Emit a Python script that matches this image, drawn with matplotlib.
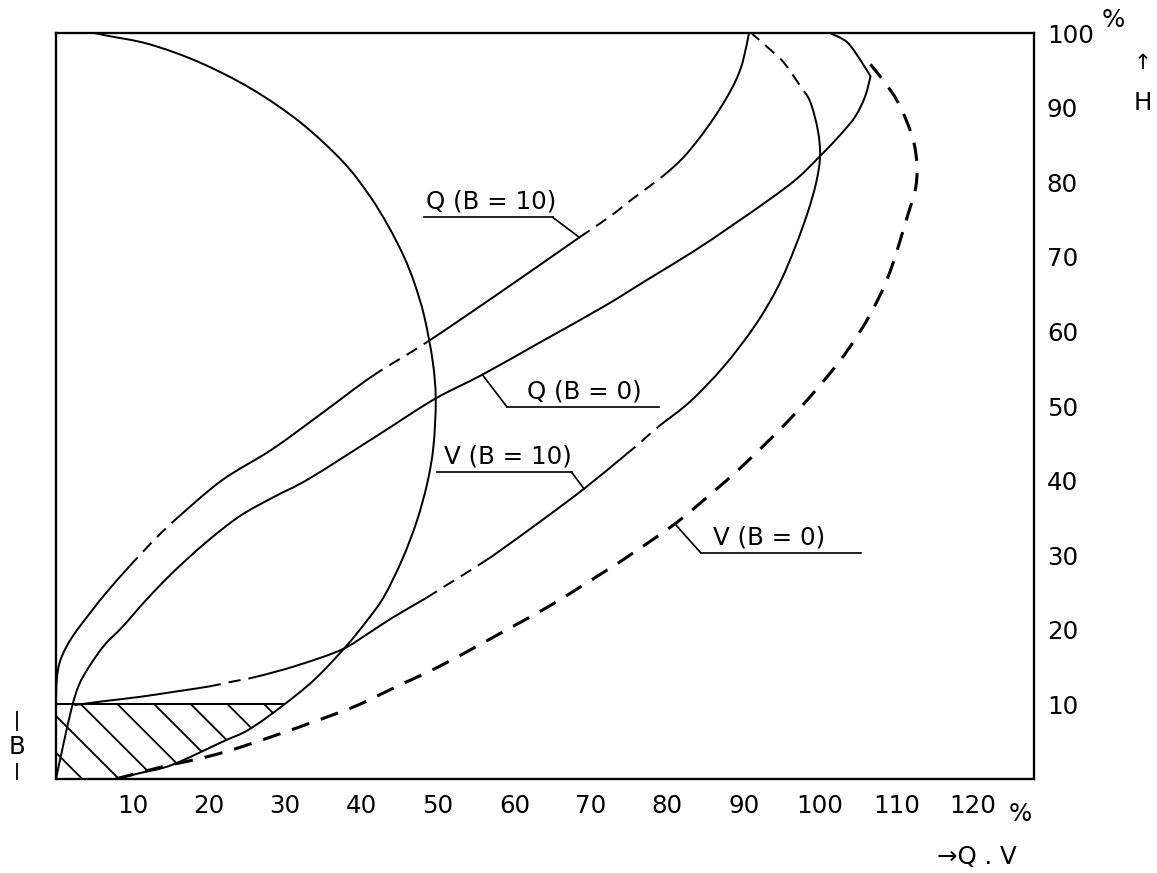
"""
Pump characteristic sketch: Q and V curves against head H, for B = 0 and B = 10.

Curves are read off a scanned drawing and drawn as smooth Bezier paths,
partly solid and partly broken as in the original.
"""

import matplotlib

matplotlib.use("Agg")
import matplotlib.pyplot as plt
from matplotlib.patches import PathPatch
from matplotlib.path import Path
from matplotlib.transforms import blended_transform_factory

DPI = 220
W_PX, H_PX = 1157, 873

plt.rcParams["font.family"] = ["DejaVu Sans", "Noto Sans"]
plt.rcParams["hatch.linewidth"] = 0.6
plt.rcParams["lines.scale_dashes"] = False

# ---- data (x = Q,V in %, y = H in %) ----
X_TICKS = [10, 20, 30, 40, 50, 60, 70, 80, 90, 100, 110, 120]
Y_TICKS = [10, 20, 30, 40, 50, 60, 70, 80, 90, 100]

ARC_X = [5.0, 6.9, 12.2, 18.7, 25.6, 32.0, 37.6, 41.1, 43.5, 45.5, 46.9, 48.2,
         49.3, 49.7, 49.4, 48.6, 47.2, 45.3, 42.9, 40.6, 37.8, 33.8, 29.5,
         25.2, 21.8, 15.2, 11.0, 7.8]
ARC_Y = [100.0, 99.6, 98.5, 96.1, 92.5, 88.0, 82.7, 78.1, 74.1, 70.1, 66.5, 62.0,
         56.0, 50.9, 44.6, 39.7, 34.5, 29.4, 24.4, 21.1, 17.6, 13.3, 9.7,
         6.6, 5.0, 1.9, 0.8, 0.0]

QB10_X = [0.0, 0.1, 0.6, 2.1, 4.8, 6.6, 9.6, 13.1, 16.1, 21.8, 28.3, 34.9,
          41.4, 48.6, 58.1, 68.5, 72.5, 75.5, 79.4, 82.0, 84.2, 86.1, 87.7,
          89.0, 89.9, 90.7]
QB10_Y = [10.0, 13.3, 16.0, 19.0, 22.7, 25.0, 28.5, 32.3, 35.2, 40.1, 44.2, 49.1,
          54.0, 58.6, 65.2, 72.6, 75.4, 77.8, 80.8, 83.2, 85.9, 88.6, 91.2,
          93.7, 96.2, 100.0]
QB10_DASHED = [(6, 8), (12, 13), (15, 18)]

QB0_X = [0.0, 1.0, 2.1, 3.0, 4.3, 6.3, 8.7, 11.8, 15.2, 19.5, 24.0, 28.5, 33.2,
         42.3, 49.5, 55.8, 63.3, 71.8, 77.5, 83.4, 88.2, 93.4, 97.0, 100.0,
         102.6, 104.6, 105.9, 106.6, 105.2, 103.5, 101.3]
QB0_Y = [0.0, 4.8, 9.7, 12.6, 15.0, 17.9, 20.4, 24.0, 27.6, 31.6, 35.2, 37.8, 40.3,
         46.2, 50.9, 54.2, 58.5, 63.4, 67.0, 70.7, 74.0, 77.7, 80.5, 83.5,
         86.3, 88.8, 91.5, 94.2, 96.5, 98.8, 100.0]
QB0_DASHED = []
QB0_CORNERS = [27]

VB10_X = [2.4, 6.0, 10.9, 15.5, 20.0, 22.8, 26.2, 31.5, 37.3, 41.0, 44.0, 48.5,
          50.5, 53.5, 56.4, 58.1, 63.5, 69.1, 74.6, 76.7, 78.8, 83.0, 87.4,
          91.5, 94.5, 96.7, 98.4, 99.5, 100.0, 99.7, 98.7, 97.4, 95.2, 93.0,
          91.1]
VB10_Y = [9.9, 10.4, 11.0, 11.7, 12.4, 13.0, 13.7, 15.2, 17.3, 19.6, 21.6, 24.3,
          25.6, 27.5, 29.4, 30.6, 34.6, 38.9, 43.5, 45.3, 47.2, 50.6, 55.3,
          60.8, 66.0, 71.2, 76.0, 80.0, 83.5, 87.0, 90.8, 92.9, 96.1, 98.2,
          99.9]
VB10_DASHED = [(4, 6), (11, 14), (18, 20), (30, 34)]

VB0_X = [7.8, 11.5, 15.0, 19.1, 23.0, 25.7, 28.3, 34.1, 39.5, 44.6, 50.0, 55.8,
         58.1, 64.6, 71.8, 75.1, 81.0, 85.7, 90.2, 97.1, 103.9, 108.5, 111.6,
         112.5, 112.7, 112.3, 111.4, 110.1, 108.6, 106.6]
VB0_Y = [0.0, 1.0, 1.9, 2.8, 3.9, 4.8, 5.7, 7.8, 9.9, 12.4, 15.0, 18.2,
         19.5, 23.2, 27.8, 30.0, 34.2, 38.2, 42.3, 49.4, 57.9, 66.3, 76.0,
         79.2, 82.1, 85.2, 88.0, 90.9, 93.2, 95.8]
VB0_DASHED = [(0, len(VB0_X) - 1)]

# hatched zone below B: bounded by the axis, the B line and the lower arc
HATCH_X = [0.0, 7.8, 11.0, 15.2, 21.8, 25.2, 29.5, 29.8, 0.0]
HATCH_Y = [0.0, 0.0, 0.8, 1.9, 5.0, 6.6, 9.7, 10.0, 10.0]

LABELS = ["Q (B = 10)", "Q (B = 0)", "V (B = 10)", "V (B = 0)"]


def px(x, y):
    """Figure fraction from picture pixels."""
    return x / W_PX, 1 - y / H_PX


def control_points(xs, ys, corners):
    """Catmull-Rom tangents turned into cubic Bezier control points."""
    n = len(xs)
    ctrl = []
    for i in range(n - 1):
        i0 = max(i - 1, 0)
        i3 = min(i + 2, n - 1)
        k1 = 0.0 if i in corners else 1 / 6
        k2 = 0.0 if i + 1 in corners else 1 / 6
        c1 = (xs[i] + (xs[i + 1] - xs[i0]) * k1, ys[i] + (ys[i + 1] - ys[i0]) * k1)
        c2 = (xs[i + 1] - (xs[i3] - xs[i]) * k2,
              ys[i + 1] - (ys[i3] - ys[i]) * k2)
        ctrl.append((c1, c2))
    return ctrl


def draw_curve(ax, xs, ys, dashed, lw=0.65, dash=(4.0, 2.6), corners=()):
    """Draw a smooth curve with some segment ranges broken."""
    n = len(xs) - 1
    ctrl = control_points(xs, ys, corners)
    flags = [False] * n
    for a, b in dashed:
        for i in range(a, b):
            flags[i] = True
    start = 0
    for i in range(1, n + 1):
        if i == n or flags[i] != flags[start]:
            verts = [(xs[start], ys[start])]
            codes = [Path.MOVETO]
            for j in range(start, i):
                verts += [ctrl[j][0], ctrl[j][1], (xs[j + 1], ys[j + 1])]
                codes += [Path.CURVE4] * 3
            style = (0, dash) if flags[start] else "-"
            ax.add_patch(PathPatch(Path(verts, codes), fill=False,
                                   edgecolor="black", lw=lw, linestyle=style,
                                   joinstyle="round", capstyle="butt"))
            start = i


def label(ax, text, tx, uy, x0, x1, leader_from, target):
    """Underlined label with a short leader to a curve point."""
    ax.text(tx, uy + 0.5, text, ha="center", va="bottom", fontsize=8)
    ax.plot([x0, x1], [uy, uy], color="black", lw=0.55)
    lx = x0 if leader_from == "left" else x1
    ax.plot([lx, target[0]], [uy, target[1]], color="black", lw=0.55)


def main() -> None:
    """Draw the chart."""
    fig = plt.figure(figsize=(W_PX / DPI, H_PX / DPI), dpi=DPI)
    ax = fig.add_axes([56 / W_PX, 1 - 779 / H_PX, 978 / W_PX, 746 / H_PX])
    ax.set_xlim(0, 128)
    ax.set_ylim(0, 100)

    for s in ax.spines.values():
        s.set_linewidth(0.75)

    ax.set_xticks(X_TICKS)
    ax.set_xticklabels([str(v) for v in X_TICKS], fontsize=8)
    ax.yaxis.tick_right()
    ax.set_yticks(Y_TICKS)
    ax.set_yticklabels([str(v) for v in Y_TICKS], fontsize=8)
    ax.tick_params(axis="x", length=0, pad=4.8)
    ax.tick_params(axis="y", length=0, pad=4.2)

    # hatched zone and B line
    ax.fill(HATCH_X, HATCH_Y, facecolor="none", edgecolor="black",
            linewidth=0, hatch="\\\\")
    ax.plot(HATCH_X[-2:], HATCH_Y[-2:], color="black", lw=0.65)

    draw_curve(ax, ARC_X, ARC_Y, [])
    draw_curve(ax, QB10_X, QB10_Y, QB10_DASHED)
    draw_curve(ax, QB0_X, QB0_Y, QB0_DASHED, corners=QB0_CORNERS)
    draw_curve(ax, VB10_X, VB10_Y, VB10_DASHED)
    draw_curve(ax, VB0_X, VB0_Y, VB0_DASHED, lw=1.0, dash=(6.0, 4.0))

    label(ax, LABELS[0], 56.9, 75.3, 48.2, 65.0, "right",
          (QB10_X[15], QB10_Y[15]))
    label(ax, LABELS[1], 69.2, 49.9, 59.0, 78.9, "left",
          (QB0_X[15], QB0_Y[15]))
    label(ax, LABELS[2], 59.1, 41.1, 49.8, 67.5, "right",
          (VB10_X[17], VB10_Y[17]))
    label(ax, LABELS[3], 93.3, 30.3, 84.4, 105.4, "left",
          (VB0_X[16], VB0_Y[16]))

    # B dimension mark at the left
    tr = blended_transform_factory(ax.transAxes, ax.transData)
    ax.text(-0.040, 4.3, "B", transform=tr, ha="center", va="center",
            fontsize=8)
    ax.plot([-0.040, -0.040], [6.6, 9.0], transform=tr, color="black",
            lw=0.6, clip_on=False)
    ax.plot([-0.040, -0.040], [0.0, 2.0], transform=tr, color="black",
            lw=0.6, clip_on=False)

    # axis names
    fig.text(*px(1113, 20), "%", ha="center", va="center", fontsize=8)
    fig.text(*px(1143, 63), "↑", ha="center", va="center", fontsize=7)
    fig.text(*px(1143, 103), "H", ha="center", va="center", fontsize=8)
    fig.text(*px(1020, 814), "%", ha="center", va="center", fontsize=8)
    fig.text(*px(977, 857), "→Q . V", ha="center", va="center", fontsize=8)

    fig.savefig("out.png", dpi=DPI, facecolor="white")


if __name__ == "__main__":
    main()
